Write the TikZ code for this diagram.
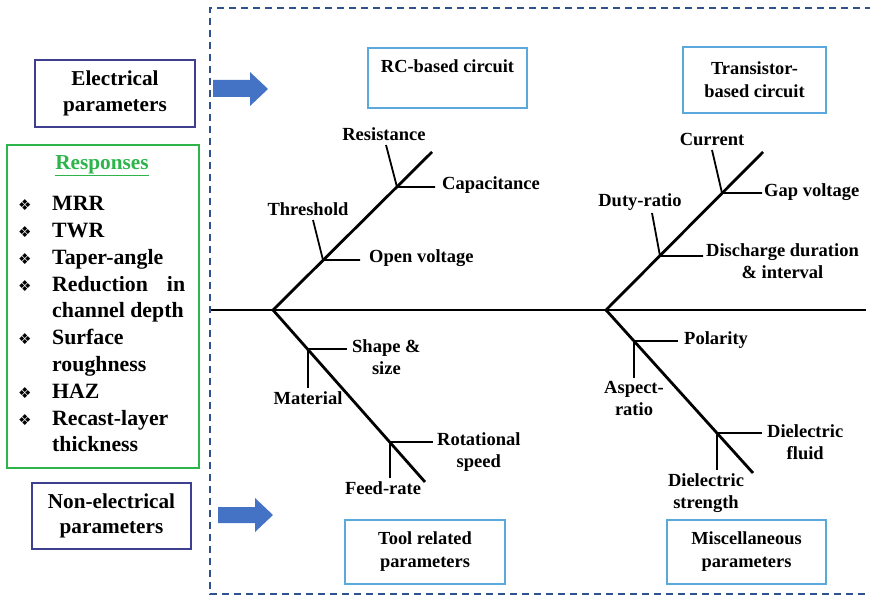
\documentclass[tikz,border=0pt]{standalone}
\usepackage{fontspec}
\setmainfont{Liberation Serif}
\newfontfamily\symfont{DejaVu Sans}
\usetikzlibrary{positioning}
\definecolor{frameblue}{HTML}{2F528F}
\definecolor{parblue}{HTML}{3F3F8F}
\definecolor{respgreen}{HTML}{2DB54B}
\definecolor{catblue}{HTML}{5AA8DC}
\definecolor{arrowblue}{HTML}{4472C4}
\newcommand\respbullet{{\symfont\fontsize{15}{15}\selectfont ❖}}
\begin{document}
\begin{tikzpicture}[x=1pt,y=-1pt,
  every node/.style={font=\fontsize{18.5}{22}\selectfont\bfseries,align=center,inner sep=0pt},
  parbox/.style={draw=parblue,line width=1.8pt,font=\fontsize{21.2}{25.5}\selectfont\bfseries},
  catbox/.style={draw=catblue,line width=1.6pt,font=\fontsize{18.4}{23}\selectfont\bfseries},
  bone/.style={line width=2.8pt},
  rib/.style={line width=1.8pt}]
\useasboundingbox (0,0) rectangle (870,596);
\draw[frameblue,line width=1.5pt,dash pattern=on 7pt off 5pt] (872,8) -- (210,8) -- (210,594) -- (872,594);
\node[parbox,minimum width=160pt,minimum height=67pt] (elec) at (115,93.5) {Electrical\\parameters};
\node[parbox,minimum width=159pt,minimum height=66pt] (nonelec) at (111.5,516) {Non-electrical\\parameters};
\node[draw=respgreen,line width=1.8pt,minimum width=192pt,minimum height=323pt] (resp) at (103,306.5) {};
\node[font=\fontsize{21.3}{25}\selectfont\bfseries,text=respgreen] (resptitle) at (102,166) {\underline{Responses}};
\node[anchor=west,align=left,font=\fontsize{21.8}{26.8}\selectfont\bfseries] (resplist) at (18,326) {%
\begin{tabular}{@{}p{34pt}@{}p{133pt}@{}}
\respbullet & MRR\\
\respbullet & TWR\\
\respbullet & Taper-angle\\
\respbullet & \makebox[133pt]{Reduction\hfill in}\\
 & channel depth\\
\respbullet & Surface\\
 & roughness\\
\respbullet & HAZ\\
\respbullet & Recast-layer\\
 & thickness
\end{tabular}};
\fill[arrowblue] (213,80) -- (250,80) -- (250,72) -- (268,89) -- (250,106) -- (250,97) -- (213,97) -- cycle;
\fill[arrowblue] (218,507) -- (255,507) -- (255,498) -- (273,515) -- (255,532) -- (255,523) -- (218,523) -- cycle;
\node[catbox,minimum width=159pt,minimum height=60pt] (rc) at (447.5,78) {RC-based circuit\\\mbox{}};
\node[catbox,minimum width=143pt,minimum height=66pt] (trans) at (754.5,80) {Transistor-\\based circuit};
\node[catbox,minimum width=160pt,minimum height=64pt] (tool) at (425,552) {Tool related\\parameters};
\node[catbox,minimum width=159pt,minimum height=64pt] (misc) at (746.5,552) {Miscellaneous\\parameters};
\coordinate (spineL) at (211,310);
\coordinate (spineR) at (866,310);
\coordinate (tailL) at (273,310);
\coordinate (tailR) at (606,310);
\coordinate (headA) at (432,152);
\coordinate (headB) at (763,152);
\coordinate (headC) at (425,482);
\coordinate (headD) at (753,473);
\draw[bone] (spineL) -- (spineR);
\draw[bone] (headA) -- (tailL) -- (headC);
\draw[bone] (headB) -- (tailR) -- (headD);
\coordinate (j1) at (397,187);
\coordinate (r1a) at (386,145);
\coordinate (r1b) at (435,187);
\coordinate (j2) at (323,260);
\coordinate (r2a) at (313,220);
\coordinate (r2b) at (360,260);
\coordinate (j3) at (722,193);
\coordinate (r3a) at (712,150);
\coordinate (r3b) at (762,193);
\coordinate (j4) at (660,256);
\coordinate (r4a) at (652,213);
\coordinate (r4b) at (703,256);
\coordinate (j5) at (308,349);
\coordinate (r5a) at (308,388);
\coordinate (r5b) at (347,349);
\coordinate (j6) at (390,442);
\coordinate (r6a) at (390,478);
\coordinate (r6b) at (433,442);
\coordinate (j7) at (634,341);
\coordinate (r7a) at (634,378);
\coordinate (r7b) at (678,341);
\coordinate (j8) at (717,433);
\coordinate (r8a) at (717,470);
\coordinate (r8b) at (762,433);
\draw[rib] (r1a) -- (j1) -- (r1b);
\draw[rib] (r2a) -- (j2) -- (r2b);
\draw[rib] (r3a) -- (j3) -- (r3b);
\draw[rib] (r4a) -- (j4) -- (r4b);
\draw[rib] (r5a) -- (j5) -- (r5b);
\draw[rib] (r6a) -- (j6) -- (r6b);
\draw[rib] (r7a) -- (j7) -- (r7b);
\draw[rib] (r8a) -- (j8) -- (r8b);
\node[above=4pt of r1a,xshift=-2pt] (resistance) {Resistance};
\node[right=7pt of r1b,yshift=2pt] (capacitance) {Capacitance};
\node[above=4pt of r2a,xshift=-5pt] (threshold) {Threshold};
\node[right=9pt of r2b,yshift=2pt] (openv) {Open voltage};
\node[above=4pt of r3a] (current) {Current};
\node[right=2pt of r3b,yshift=1pt] (gapv) {Gap voltage};
\node[above=2pt of r4a,xshift=-12pt] (duty) {Duty-ratio};
\node[right=3pt of r4b,yshift=-5pt] (discharge) {Discharge duration\\\& interval};
\node[below=3pt of r5a] (material) {Material};
\node[right=5pt of r5b,yshift=-8pt] (shape) {Shape \&\\size};
\node[right=4pt of r6b,yshift=-10pt] (rotation) {Rotational\\speed};
\node[below=3pt of r6a,xshift=-7pt] (feed) {Feed-rate};
\node[right=6pt of r7b,yshift=1pt] (polarity) {Polarity};
\node[below=3pt of r7a] (aspect) {Aspect-\\ratio};
\node[right=5pt of r8b,yshift=-9pt] (dfluid) {Dielectric\\fluid};
\node[below=3pt of r8a,xshift=-11pt] (dstrength) {Dielectric\\strength};
\end{tikzpicture}
\end{document}
